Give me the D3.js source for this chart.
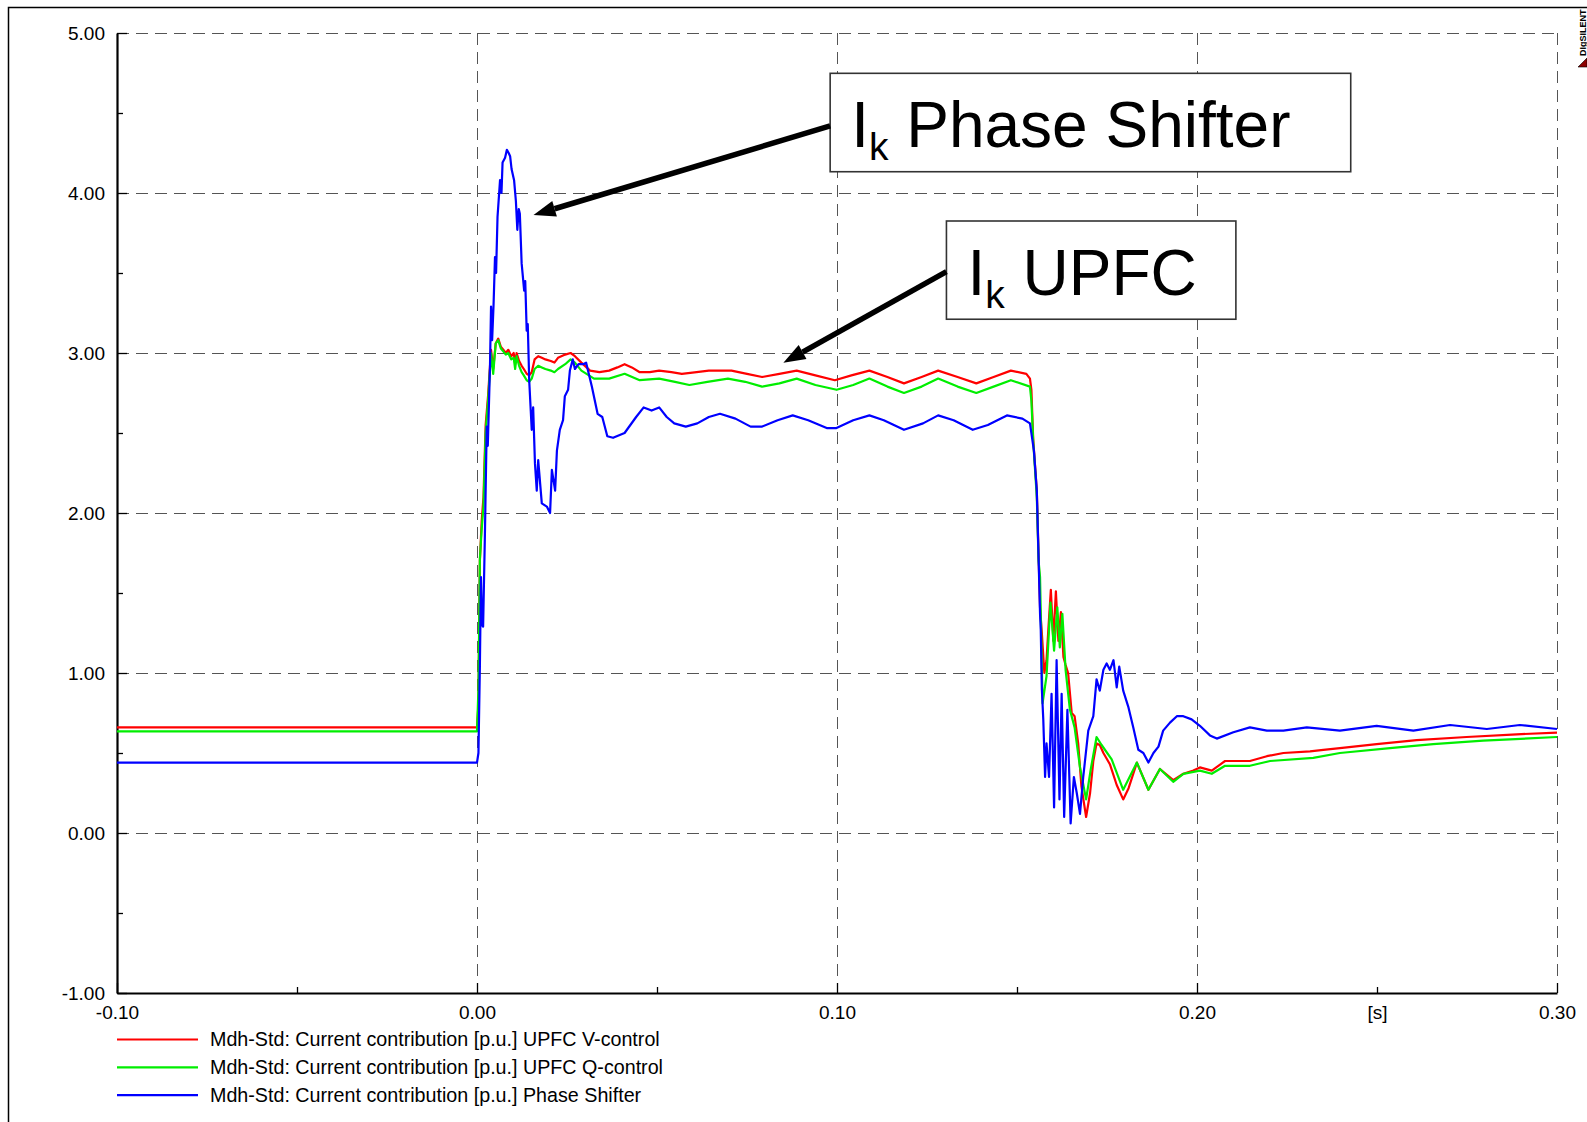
<!DOCTYPE html>
<html>
<head>
<meta charset="utf-8">
<script src="https://cdn.jsdelivr.net/npm/d3@7"></script>
<style>
    body { margin: 0; background: #fff; }
    svg { display: block; font-family: "Liberation Sans", Arial, sans-serif; }
</style>
</head>
<body>
<div id="chart"></div>
<script>
// time axis [s] and current [p.u.]
const xMajorTicks = [-0.1, 0.0, 0.1, 0.2, 0.3];
const xMinorTicks = [-0.05, 0.05, 0.15, 0.25];
const xUnitLabel = '[s]';
const yMajorTicks = [-1, 0, 1, 2, 3, 4, 5];
const yMinorTicks = [-0.5, 0.5, 1.5, 2.5, 3.5, 4.5];

const seriesNames = [
    'Mdh-Std: Current contribution [p.u.] UPFC V-control',
    'Mdh-Std: Current contribution [p.u.] UPFC Q-control',
    'Mdh-Std: Current contribution [p.u.] Phase Shifter'
];
const seriesColors = ['#ff0000', '#00ee00', '#0000ff'];

// [t, I]
const upfcV = [[-0.1, 0.66], [0, 0.66], [0.0004, 0.8], [0.0008, 1.7], [0.0013, 1.95], [0.0018, 2.1], [0.0024, 2.55],
    [0.0031, 2.74], [0.0039, 3.02], [0.0045, 2.9], [0.0052, 3.06], [0.0059, 3.09], [0.0066, 3.04], [0.0073, 3.02],
    [0.008, 3.0], [0.0087, 3.02], [0.0095, 2.98], [0.0102, 3.0], [0.0106, 2.93], [0.011, 3.0], [0.0117, 2.95],
    [0.0124, 2.92], [0.013, 2.9], [0.0138, 2.87], [0.0145, 2.86], [0.0152, 2.88], [0.016, 2.96], [0.017, 2.98],
    [0.018, 2.97], [0.019, 2.96], [0.0205, 2.95], [0.0215, 2.94], [0.0225, 2.97], [0.0245, 2.99], [0.026, 3.0],
    [0.0272, 2.98], [0.029, 2.94], [0.0314, 2.89], [0.034, 2.88], [0.0367, 2.89], [0.039, 2.91], [0.041, 2.93],
    [0.043, 2.91], [0.0452, 2.88], [0.048, 2.88], [0.0506, 2.89], [0.054, 2.88], [0.0569, 2.87], [0.061, 2.88],
    [0.0644, 2.89], [0.0675, 2.89], [0.0707, 2.89], [0.075, 2.87], [0.0792, 2.85], [0.084, 2.87], [0.0888, 2.89],
    [0.094, 2.86], [0.0994, 2.83], [0.104, 2.86], [0.109, 2.89], [0.114, 2.85], [0.1186, 2.81], [0.1235, 2.85],
    [0.1281, 2.89], [0.1335, 2.85], [0.1387, 2.81], [0.1435, 2.85], [0.1483, 2.89], [0.1526, 2.87], [0.1536, 2.84],
    [0.154, 2.77], [0.1545, 2.46], [0.1555, 2.14], [0.156, 1.73], [0.1564, 1.41], [0.1569, 1.25], [0.1576, 1.0],
    [0.1582, 1.08], [0.1587, 1.27], [0.1594, 1.52], [0.1601, 1.2], [0.1608, 1.51], [0.1615, 1.2], [0.1622, 1.38],
    [0.1629, 1.1], [0.1635, 1.05], [0.1642, 1.0], [0.1652, 0.75], [0.166, 0.73], [0.167, 0.56], [0.1679, 0.29],
    [0.1692, 0.1], [0.1703, 0.25], [0.1712, 0.45], [0.1721, 0.56], [0.173, 0.55], [0.174, 0.5], [0.1758, 0.43],
    [0.1777, 0.3], [0.1795, 0.21], [0.181, 0.28], [0.1833, 0.44], [0.1865, 0.27], [0.1897, 0.4], [0.1934, 0.33],
    [0.1962, 0.37], [0.199, 0.39], [0.2008, 0.41], [0.2041, 0.39], [0.2078, 0.45], [0.2147, 0.45], [0.2194, 0.48],
    [0.224, 0.5], [0.2314, 0.51], [0.2351, 0.52], [0.2397, 0.53], [0.2499, 0.556], [0.261, 0.58], [0.2749, 0.6],
    [0.2888, 0.617], [0.3, 0.627]];

const upfcQ = [[-0.1, 0.635], [0, 0.635], [0.0004, 0.9], [0.0008, 1.71], [0.0013, 1.9], [0.0018, 2.04], [0.0024, 2.5],
    [0.0031, 2.71], [0.0039, 3.0], [0.0045, 2.87], [0.0052, 3.06], [0.0059, 3.08], [0.0066, 3.03], [0.0073, 3.01],
    [0.008, 2.99], [0.0087, 3.0], [0.0095, 2.96], [0.0102, 2.97], [0.0106, 2.9], [0.011, 2.98], [0.0117, 2.92],
    [0.0124, 2.88], [0.013, 2.86], [0.0138, 2.83], [0.0145, 2.82], [0.0152, 2.84], [0.016, 2.9], [0.017, 2.92],
    [0.018, 2.91], [0.019, 2.9], [0.0205, 2.89], [0.0215, 2.88], [0.0225, 2.9], [0.0245, 2.93], [0.026, 2.96],
    [0.0272, 2.94], [0.029, 2.89], [0.0325, 2.84], [0.0367, 2.84], [0.041, 2.87], [0.0452, 2.83], [0.0506, 2.84],
    [0.055, 2.82], [0.059, 2.8], [0.064, 2.82], [0.0697, 2.84], [0.0745, 2.82], [0.0792, 2.79], [0.084, 2.81],
    [0.0888, 2.84], [0.094, 2.8], [0.0999, 2.77], [0.1045, 2.8], [0.109, 2.84], [0.114, 2.79], [0.1186, 2.75],
    [0.1235, 2.79], [0.1281, 2.84], [0.1335, 2.79], [0.1387, 2.75], [0.1435, 2.79], [0.1483, 2.83], [0.1536, 2.79],
    [0.154, 2.7], [0.1545, 2.45], [0.1555, 2.1], [0.156, 1.7], [0.1564, 1.6], [0.1571, 0.81], [0.1582, 0.98],
    [0.1593, 1.44], [0.1603, 1.14], [0.1612, 1.41], [0.1619, 1.16], [0.1626, 1.37], [0.1635, 1.02], [0.1647, 0.77],
    [0.166, 0.66], [0.1675, 0.41], [0.1692, 0.21], [0.1705, 0.4], [0.1721, 0.6], [0.1735, 0.55], [0.1763, 0.46],
    [0.1795, 0.27], [0.1833, 0.44], [0.1865, 0.27], [0.1897, 0.4], [0.1934, 0.32], [0.1962, 0.37], [0.2008, 0.39],
    [0.2041, 0.37], [0.2078, 0.42], [0.2147, 0.42], [0.2203, 0.45], [0.2323, 0.47], [0.2397, 0.5], [0.2536, 0.53],
    [0.2656, 0.556], [0.2795, 0.577], [0.3, 0.6]];

const phaseShifter = [[-0.1, 0.44], [0, 0.44], [0.0004, 0.5], [0.0008, 1.04], [0.0011, 1.6], [0.0014, 1.3],
    [0.0017, 1.29], [0.0022, 1.87], [0.0027, 2.54], [0.003, 2.42], [0.0036, 2.91], [0.0039, 3.29], [0.0042, 3.08],
    [0.0046, 3.3], [0.005, 3.6], [0.0053, 3.5], [0.0057, 3.85], [0.0064, 4.08], [0.0068, 4.0], [0.0071, 4.19],
    [0.0078, 4.22], [0.0083, 4.27], [0.0088, 4.25], [0.0092, 4.23], [0.0096, 4.15], [0.0103, 4.08], [0.0108, 3.95],
    [0.0112, 3.77], [0.0116, 3.9], [0.0119, 3.87], [0.0124, 3.56], [0.0131, 3.39], [0.0134, 3.45], [0.0138, 3.14],
    [0.0141, 3.18], [0.0145, 2.83], [0.0152, 2.52], [0.0156, 2.66], [0.0161, 2.31], [0.0166, 2.14], [0.017, 2.33],
    [0.018, 2.06], [0.0194, 2.04], [0.0203, 2.0], [0.0208, 2.27], [0.0217, 2.14], [0.0222, 2.39], [0.023, 2.52],
    [0.0239, 2.58], [0.0244, 2.73], [0.0253, 2.77], [0.0258, 2.89], [0.0266, 2.96], [0.0272, 2.9], [0.0282, 2.93],
    [0.0295, 2.93], [0.0303, 2.94], [0.0319, 2.79], [0.0335, 2.62], [0.0348, 2.6], [0.0362, 2.48], [0.0378, 2.47],
    [0.041, 2.5], [0.0442, 2.6], [0.0463, 2.66], [0.0485, 2.64], [0.0506, 2.66], [0.0527, 2.6], [0.0548, 2.56],
    [0.058, 2.54], [0.0612, 2.56], [0.0644, 2.6], [0.0675, 2.62], [0.0718, 2.59], [0.076, 2.54], [0.0792, 2.54],
    [0.0835, 2.58], [0.0877, 2.61], [0.092, 2.58], [0.0973, 2.53], [0.0997, 2.53], [0.1045, 2.58], [0.109, 2.61],
    [0.113, 2.58], [0.1186, 2.52], [0.1239, 2.56], [0.1281, 2.61], [0.1324, 2.58], [0.1377, 2.52], [0.1419, 2.55],
    [0.1472, 2.61], [0.1515, 2.59], [0.1536, 2.56], [0.1547, 2.39], [0.1555, 2.14], [0.156, 1.71], [0.1564, 1.37],
    [0.1566, 1.27], [0.1569, 0.9], [0.1573, 0.71], [0.1578, 0.35], [0.1582, 0.56], [0.1589, 0.35], [0.1596, 0.87],
    [0.1603, 0.16], [0.161, 1.08], [0.1618, 0.21], [0.1624, 0.87], [0.1631, 0.1], [0.164, 0.77], [0.1649, 0.06],
    [0.1658, 0.35], [0.1666, 0.25], [0.1675, 0.12], [0.1684, 0.35], [0.1698, 0.64], [0.1712, 0.73], [0.1721, 0.96],
    [0.173, 0.89], [0.174, 1.02], [0.1749, 1.06], [0.1758, 1.02], [0.1768, 1.08], [0.1777, 0.91], [0.1784, 1.04],
    [0.1795, 0.89], [0.1809, 0.79], [0.1823, 0.66], [0.1837, 0.52], [0.1851, 0.5], [0.1865, 0.44], [0.1879, 0.5],
    [0.1893, 0.54], [0.1906, 0.64], [0.1925, 0.69], [0.1944, 0.73], [0.1962, 0.73], [0.1985, 0.71], [0.2008, 0.67],
    [0.2036, 0.61], [0.2055, 0.59], [0.2101, 0.63], [0.2147, 0.66], [0.2194, 0.64], [0.224, 0.64], [0.2305, 0.66],
    [0.2397, 0.64], [0.2499, 0.67], [0.2601, 0.64], [0.2703, 0.675], [0.2805, 0.65], [0.2897, 0.675], [0.3, 0.65]];

// text boxes with arrows, in data units: box [t0, t1, I0, I1], arrow from -> to
const annotations = [
    {name: 'Phase Shifter', box: [0.0981, 0.2427, 4.748, 4.133], baseline: 4.285, from: [0.0981, 4.419], to: [0.0157, 3.862]},
    {name: 'UPFC', box: [0.1304, 0.2108, 3.825, 3.211], baseline: 3.364, from: [0.1304, 3.508], to: [0.0851, 2.939]}
];

const W = 1587, H = 1122;
const margin = {left: 117, right: 30, top: 33, bottom: 129};

const svg = d3.select('#chart').append('svg')
    .attr('width', W)
    .attr('height', H);

// page frame (cut at right and bottom)
svg.append('path')
    .attr('d', `M8.5,${H + 2}V7.5H${W + 2}`)
    .attr('fill', 'none')
    .attr('stroke', '#000')
    .attr('stroke-width', 1.5);

const x = d3.scaleLinear().domain([-0.1, 0.3]).range([margin.left, W - margin.right]);
const y = d3.scaleLinear().domain([-1, 5]).range([H - margin.bottom, margin.top]);

// grid
const grid = svg.append('g').attr('stroke', '#555').attr('stroke-width', 1).attr('stroke-dasharray', '12,7');
grid.selectAll('line.h')
    .data(yMajorTicks.filter(d => d > -1))
    .enter().append('line')
    .attr('x1', x(-0.1)).attr('x2', x(0.3))
    .attr('y1', d => y(d) + 0.5).attr('y2', d => y(d) + 0.5);
grid.selectAll('line.v')
    .data(xMajorTicks.filter(d => d > -0.1))
    .enter().append('line')
    .attr('y1', y(5)).attr('y2', y(-1))
    .attr('x1', d => x(d) + 0.5).attr('x2', d => x(d) + 0.5);

// axes
const fmt = d => d.toFixed(2);
const yAxis = svg.append('g')
    .attr('transform', `translate(${margin.left},0)`)
    .call(d3.axisLeft(y).tickValues(yMajorTicks).tickSize(-10).tickSizeOuter(0).tickPadding(12).tickFormat(fmt));
svg.append('g')
    .attr('transform', `translate(${margin.left},0)`)
    .call(d3.axisLeft(y).tickValues(yMinorTicks).tickSize(-6).tickSizeOuter(0).tickFormat(''))
    .select('.domain').remove();

const xAxis = svg.append('g')
    .attr('transform', `translate(0,${y(-1)})`)
    .call(d3.axisBottom(x).tickValues(xMajorTicks).tickSize(-10).tickSizeOuter(0).tickPadding(13).tickFormat(fmt));
svg.append('g')
    .attr('transform', `translate(0,${y(-1)})`)
    .call(d3.axisBottom(x).tickValues(xMinorTicks).tickSize(-6).tickSizeOuter(0).tickPadding(13)
        .tickFormat(d => d === 0.25 ? xUnitLabel : ''))
    .select('.domain').remove();

svg.selectAll('.tick text').attr('font-size', '19px').attr('fill', '#000')
    .attr('font-family', '"Liberation Sans", Arial, sans-serif');
svg.selectAll('.tick line').attr('stroke', '#000').attr('stroke-width', 1.3);
yAxis.select('.domain').attr('stroke-width', 2.2);
xAxis.select('.domain').attr('stroke-width', 2.2);

// curves
const line = d3.line()
    .x(d => x(d[0]))
    .y(d => y(d[1]));

[upfcV, upfcQ, phaseShifter].forEach((series, i) => {
    svg.append('path')
        .datum(series)
        .attr('fill', 'none')
        .attr('stroke', seriesColors[i])
        .attr('stroke-width', 2.2)
        .attr('stroke-linejoin', 'round')
        .attr('d', line);
});

// legend
const legend = svg.append('g');
seriesNames.forEach((name, i) => {
    let ly = y(-1) + 46.5 + i * 27.8;
    legend.append('line')
        .attr('x1', 117).attr('x2', 198)
        .attr('y1', ly).attr('y2', ly)
        .attr('stroke', seriesColors[i])
        .attr('stroke-width', 2.2);
    legend.append('text')
        .attr('x', 210).attr('y', ly)
        .attr('dy', '0.35em')
        .attr('font-size', '19.7px')
        .text(name);
});

// annotations
annotations.forEach(a => {
    let g = svg.append('g');
    g.append('rect')
        .attr('x', x(a.box[0])).attr('y', y(a.box[2]))
        .attr('width', x(a.box[1]) - x(a.box[0]))
        .attr('height', y(a.box[3]) - y(a.box[2]))
        .attr('fill', '#fff')
        .attr('stroke', '#333')
        .attr('stroke-width', 1.6);
    let t = g.append('text')
        .attr('x', x(a.box[0]) + 21)
        .attr('y', y(a.baseline))
        .attr('font-size', '64px');
    t.append('tspan').text('I');
    t.append('tspan').attr('font-size', '39px').attr('dy', 13).text('k');
    t.append('tspan').attr('dy', -13).text(' ' + a.name);

    // arrow shaft + head
    let x1 = x(a.from[0]), y1 = y(a.from[1]), x2 = x(a.to[0]), y2 = y(a.to[1]);
    let ang = Math.atan2(y2 - y1, x2 - x1);
    let len = 22, half = 8;
    let bx = x2 - len * Math.cos(ang), by = y2 - len * Math.sin(ang);
    g.append('line')
        .attr('x1', x1).attr('y1', y1)
        .attr('x2', bx).attr('y2', by)
        .attr('stroke', '#000')
        .attr('stroke-width', 5.5);
    g.append('path')
        .attr('d', `M${x2},${y2}L${bx - half * Math.sin(ang)},${by + half * Math.cos(ang)}` +
            `L${bx + half * Math.sin(ang)},${by - half * Math.cos(ang)}Z`)
        .attr('fill', '#000');
});

// DIgSILENT mark
svg.append('text')
    .attr('transform', 'translate(1586,56) rotate(-90)')
    .attr('font-size', '9px')
    .attr('font-weight', 'bold')
    .text('DIgSILENT');
svg.append('path')
    .attr('d', 'M1578,67L1587,58L1587,67Z')
    .attr('fill', '#8b0000')
    .attr('stroke', '#000')
    .attr('stroke-width', 0.6);
</script>
</body>
</html>
